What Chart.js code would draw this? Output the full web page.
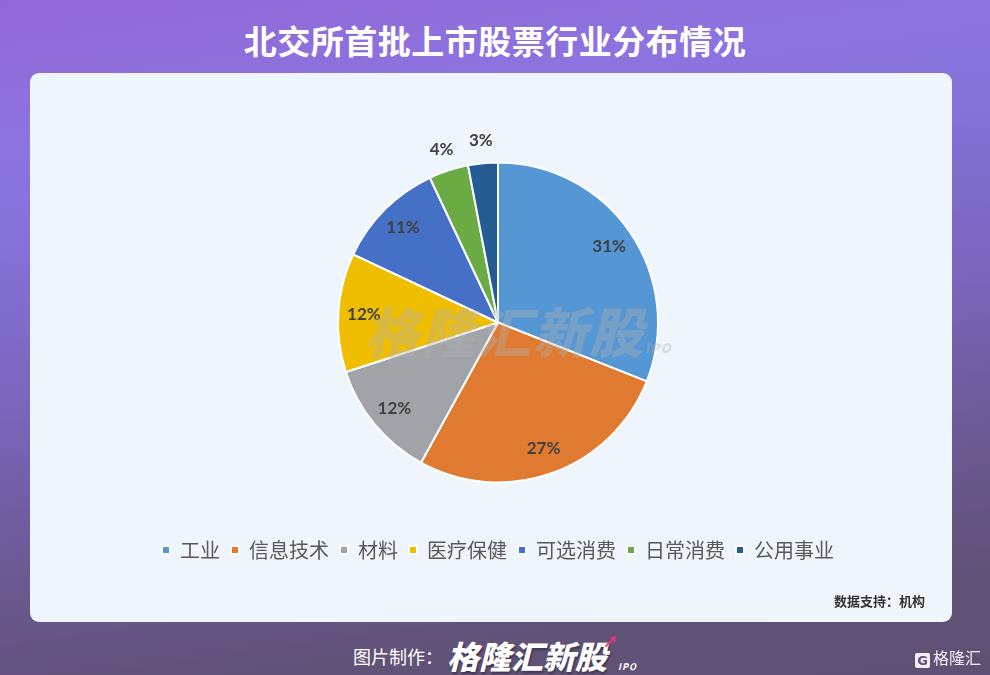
<!DOCTYPE html>
<html>
<head>
<meta charset="utf-8">
<script src="https://cdn.jsdelivr.net/npm/chart.js@4.4.1/dist/chart.umd.min.js"></script>
<style>
  html, body { margin: 0; padding: 0; }
  body {
    width: 990px; height: 675px; position: relative; overflow: hidden;
    background: linear-gradient(172deg, #9266d6 0%, #8c74e0 18%, #8571d8 30%, #7a66bc 50%, #6a5890 72%, #615277 88%, #5f5174 100%);
    font-family: "Noto Sans CJK SC", "Noto Sans", sans-serif;
  }
  #title {
    position: absolute; left: 0; width: 990px; top: 16px; text-align: center;
    color: #fff; font-size: 33px; font-weight: 700; line-height: 48px; letter-spacing: 0.5px;
  }
  #card {
    position: absolute; left: 30px; top: 73px; width: 922px; height: 549px;
    background: #eef5fd; border-radius: 9px;
  }
  #chart { position: absolute; left: 0; top: 0; }
  #source {
    position: absolute; right: 27px; top: 518px; font-size: 13px; font-weight: 700; color: #333;
  }
  #wm {
    position: absolute; left: 335px; top: 217px; font-size: 54px; font-weight: 900; font-style: italic;
    color: rgba(175,175,175,0.38); letter-spacing: 2px; pointer-events: none; white-space: nowrap;
  }
  #wm span { font-size: 13px; letter-spacing: 1px; }
  #footer {
    position: absolute; left: 0; width: 990px; top: 630px; text-align: center; color: #fff; white-space: nowrap;
  }
  #footer .lbl { font-size: 18px; vertical-align: middle; position: relative; top: 1px; margin-right: 4px; }
  #footer .logo { font-size: 32px; font-weight: 900; font-style: italic; vertical-align: middle; letter-spacing: 0px;
    text-shadow: 1px 2px 2px rgba(0,0,0,0.35); }
  #footer .ipo { font-size: 9px; font-weight: 700; font-style: italic; vertical-align: -11px; letter-spacing: 1px; }
  #footer .arr { color: #e8347a; font-size: 15px; font-weight: 900; vertical-align: 12px; margin-left: -4px; }
  #corner { position: absolute; left: 915px; top: 645px; color: #f1eef6; font-size: 16px; white-space: nowrap; }
  #corner b { display: inline-block; width: 15px; height: 15px; background: #f1eef6; color: #5f5174; font-size: 13px;
    line-height: 15px; text-align: center; vertical-align: -1px; margin-right: 3px; font-family: "DejaVu Sans"; border-radius: 2px; }
</style>
</head>
<body>
<div id="title">北交所首批上市股票行业分布情况</div>
<div id="card">
  <canvas id="chart" width="922" height="549"></canvas>
  <div id="wm">格隆汇新股<span>IPO</span></div>
  <div id="source">数据支持：机构</div>
</div>
<div id="footer"><span class="lbl">图片制作：</span><span class="logo">格隆汇新股</span><span class="arr">↗</span><span class="ipo">IPO</span></div>
<div id="corner"><b>G</b>格隆汇</div>
<script>
const categories = ["工业", "信息技术", "材料", "医疗保健", "可选消费", "日常消费", "公用事业"];
const shares = [31, 27, 12, 12, 11, 4, 3];
const sliceColors = ["#5596d4", "#e07a30", "#a0a4a8", "#f0be00", "#4471c6", "#6aab44", "#245c93"];

const labelPlugin = {
  id: "sliceLabels",
  afterDatasetsDraw(chart) {
    const ctx = chart.ctx;
    const meta = chart.getDatasetMeta(0);
    ctx.save();
    ctx.font = "bold 17px Lato, 'Open Sans', sans-serif";
    ctx.fillStyle = "#404040";
    ctx.textAlign = "center";
    ctx.textBaseline = "middle";
    meta.data.forEach((arc, i) => {
      const p = arc.getProps(["x", "y", "startAngle", "endAngle", "outerRadius"], true);
      const mid = (p.startAngle + p.endAngle) / 2;
      const outside = shares[i] < 8;
      const r = p.outerRadius * (outside ? 1.14 : 0.84);
      ctx.fillText(shares[i] + "%", p.x + Math.cos(mid) * r, p.y + Math.sin(mid) * r);
    });
    ctx.restore();
  }
};

new Chart(document.getElementById("chart"), {
  type: "pie",
  data: {
    labels: categories,
    datasets: [{
      data: shares,
      backgroundColor: sliceColors,
      borderColor: "#ffffff",
      borderWidth: 2,
      radius: 160
    }]
  },
  options: {
    responsive: false,
    animation: false,
    layout: { padding: { top: 43, bottom: 52, left: 14, right: 0 } },
    plugins: {
      tooltip: { enabled: false },
      legend: {
        position: "bottom",
        labels: {
          boxWidth: 8, boxHeight: 8, padding: 11,
          color: "#595959",
          font: { size: 20, family: "'Noto Sans CJK SC', sans-serif" }
        }
      }
    }
  },
  plugins: [labelPlugin]
});
</script>
</body>
</html>
